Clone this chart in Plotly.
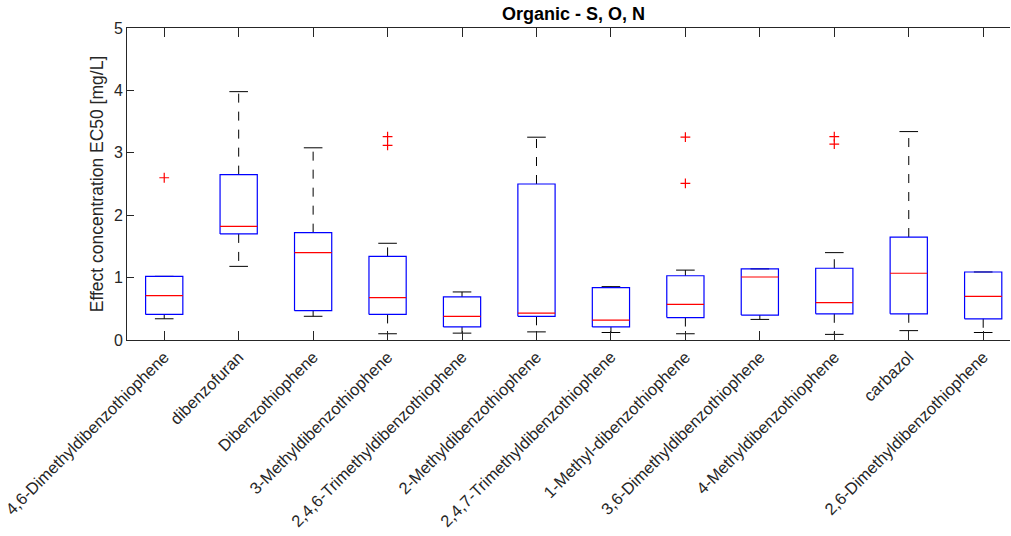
import plotly.graph_objects as go

categories = ["4,6-Dimethyldibenzothiophene", "dibenzofuran", "Dibenzothiophene",
              "3-Methyldibenzothiophene", "2,4,6-Trimethyldibenzothiophene",
              "2-Methyldibenzothiophene", "2,4,7-Trimethyldibenzothiophene",
              "1-Methyl-dibenzothiophene", "3,6-Dimethyldibenzothiophene",
              "4-Methyldibenzothiophene", "carbazol", "2,6-Dimethyldibenzothiophene"]
q1 = [0.41, 1.70, 0.47, 0.41, 0.21, 0.38, 0.21, 0.36, 0.40, 0.42, 0.42, 0.34]
median = [0.71, 1.82, 1.40, 0.68, 0.38, 0.43, 0.32, 0.57, 1.01, 0.60, 1.07, 0.70]
q3 = [1.02, 2.65, 1.72, 1.34, 0.69, 2.50, 0.84, 1.03, 1.14, 1.15, 1.65, 1.09]
lower_whisker = [0.34, 1.18, 0.38, 0.10, 0.11, 0.13, 0.12, 0.10, 0.33, 0.09, 0.15, 0.12]
upper_whisker = [1.02, 3.98, 3.08, 1.55, 0.77, 3.25, 0.855, 1.12, 1.14, 1.40, 3.34, 1.09]
outlier_index = [0, 3, 3, 7, 7, 9, 9]
outlier_value = [2.60, 3.26, 3.12, 3.25, 2.51, 3.26, 3.14]

positions = list(range(1, len(categories) + 1))
half_box = 0.25
half_cap = 0.125

bx, by, mx, my, wx, wy, cx, cy = [], [], [], [], [], [], [], []
for p, a, m, b, lo, hi in zip(positions, q1, median, q3, lower_whisker, upper_whisker):
    bx += [p - half_box, p + half_box, p + half_box, p - half_box, p - half_box, None]
    by += [a, a, b, b, a, None]
    mx += [p - half_box, p + half_box, None]
    my += [m, m, None]
    wx += [p, p, None, p, p, None]
    wy += [b, hi, None, a, lo, None]
    cx += [p - half_cap, p + half_cap, None, p - half_cap, p + half_cap, None]
    cy += [hi, hi, None, lo, lo, None]

fig = go.Figure()
fig.add_trace(go.Scatter(x=wx, y=wy, mode="lines", line=dict(color="black", width=1, dash="dash"),
                         hoverinfo="skip", showlegend=False))
fig.add_trace(go.Scatter(x=cx, y=cy, mode="lines", line=dict(color="black", width=1),
                         hoverinfo="skip", showlegend=False))
fig.add_trace(go.Scatter(x=bx, y=by, mode="lines", line=dict(color="#0000ff", width=1.2),
                         showlegend=False))
fig.add_trace(go.Scatter(x=mx, y=my, mode="lines", line=dict(color="#ff0000", width=1.2),
                         showlegend=False))
fig.add_trace(go.Scatter(x=[positions[i] for i in outlier_index], y=outlier_value, mode="markers",
                         marker=dict(symbol="cross-thin", size=7, line=dict(color="#ff0000", width=1.2)),
                         showlegend=False))

font_family = "Liberation Sans, Arial, sans-serif"
fig.update_layout(
    width=1011, height=536,
    margin=dict(l=127, r=1, t=28, b=196),
    paper_bgcolor="white", plot_bgcolor="white",
    font=dict(family=font_family, size=16, color="#262626"),
    title=dict(text="<b>Organic - S, O, N</b>", x=573.5 / 1011, xanchor="center",
               y=1 - 14 / 536, yanchor="middle", font=dict(size=18, color="black"),
               automargin=False),
    xaxis=dict(range=[0.5, 12.36], tickmode="array", tickvals=positions, ticktext=categories,
               tickangle=-45, ticks="inside", ticklen=9, tickcolor="#262626",
               showline=True, linecolor="#262626", linewidth=1, mirror="ticks",
               showgrid=False, zeroline=False, tickfont=dict(size=16.5), automargin=False),
    yaxis=dict(range=[0, 5], tickvals=[0, 1, 2, 3, 4, 5], ticks="inside", ticklen=7,
               tickcolor="#262626", showline=True, linecolor="#262626", linewidth=1,
               mirror=False, showgrid=False, zeroline=False, automargin=False,
               title=dict(text="Effect concentration EC50 [mg/L]", font=dict(size=17.5), standoff=5),
               tickfont=dict(size=16)),
)

fig.write_html("out.html", config={"displayModeBar": False},
               post_script="document.body.style.margin='0';document.body.style.overflow='hidden';")
